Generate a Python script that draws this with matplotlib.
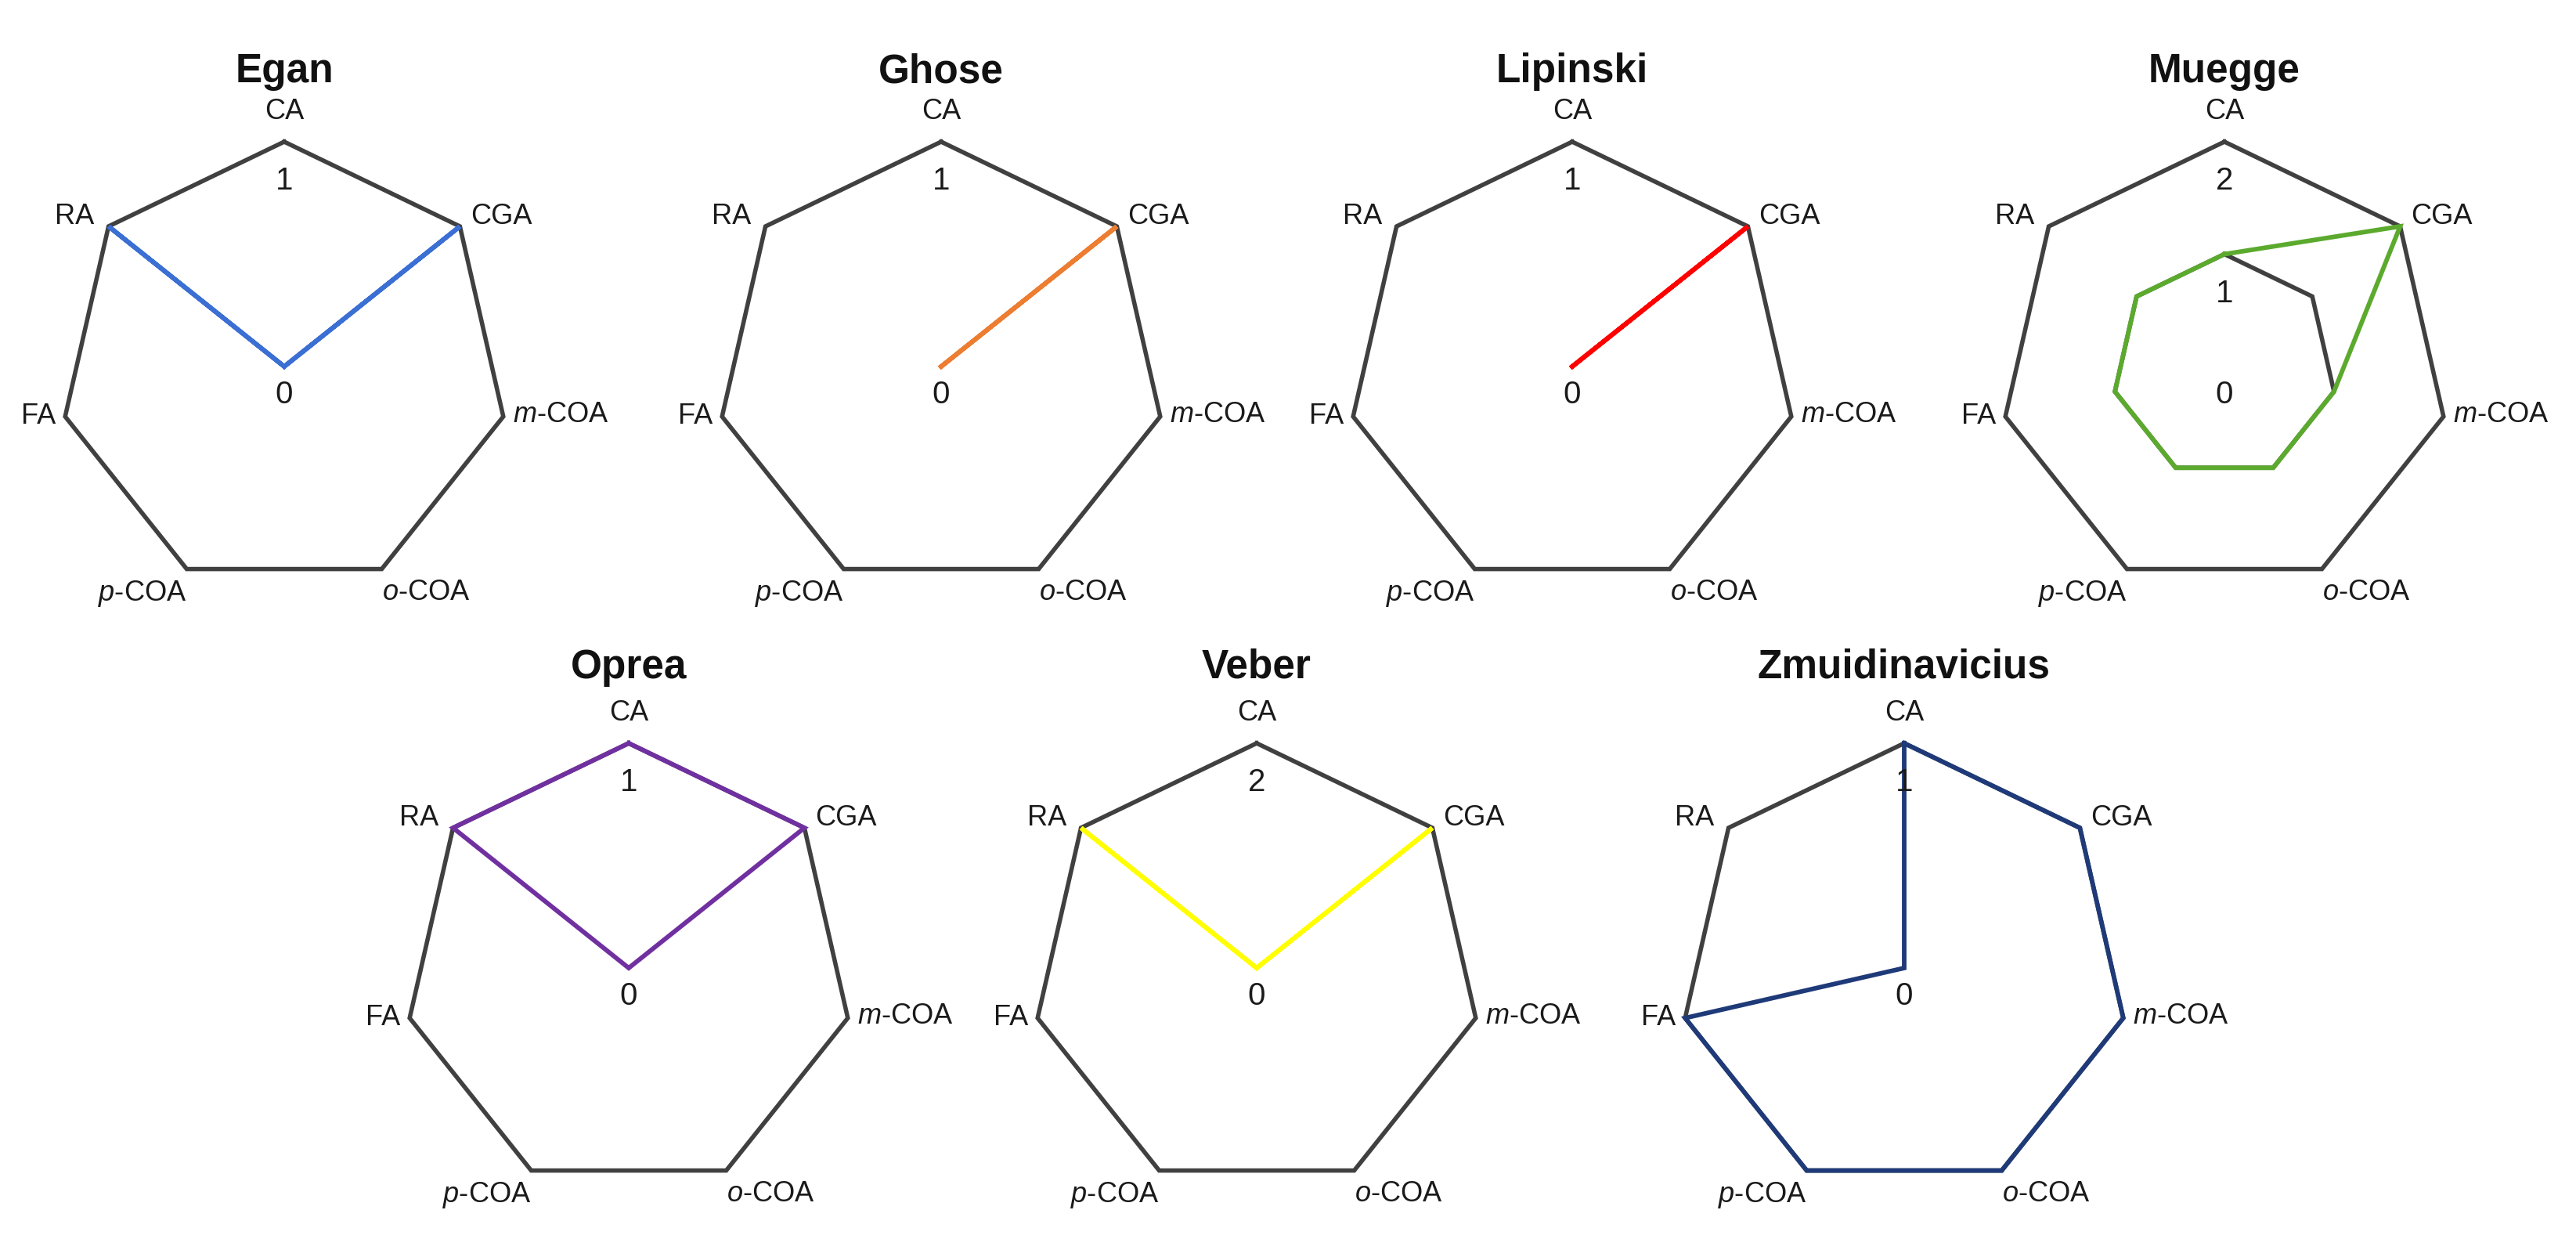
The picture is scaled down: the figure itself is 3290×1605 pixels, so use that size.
import matplotlib.pyplot as plt
import numpy as np

plt.rcParams['font.family'] = ['Liberation Sans', 'DejaVu Sans']
plt.rcParams['mathtext.fontset'] = 'custom'
plt.rcParams['mathtext.rm'] = 'Liberation Sans'
plt.rcParams['mathtext.it'] = 'Liberation Sans:italic'

# compounds, clockwise from top
compounds = ['CA', 'CGA', r'$\mathit{m}$-COA', r'$\mathit{o}$-COA',
             r'$\mathit{p}$-COA', 'FA', 'RA']

# number of rule violations per compound
rules = ['Egan', 'Ghose', 'Lipinski', 'Muegge', 'Oprea', 'Veber', 'Zmuidinavicius']
egan = [0, 1, 0, 0, 0, 0, 1]
ghose = [0, 1, 0, 0, 0, 0, 0]
lipinski = [0, 1, 0, 0, 0, 0, 0]
muegge = [1, 2, 1, 1, 1, 1, 1]
oprea = [1, 1, 0, 0, 0, 0, 1]
veber = [0, 2, 0, 0, 0, 0, 2]
zmuid = [1, 1, 1, 1, 1, 1, 0]
values = [egan, ghose, lipinski, muegge, oprea, veber, zmuid]

# radial tick labels shown on each chart
ticks = [[0, 1], [0, 1], [0, 1], [0, 1, 2], [0, 1], [0, 2], [0, 1]]
colors = ['#3B6FD4', '#ED7D31', '#FF0000', '#5BAA2E', '#7030A0', '#FFFF00', '#1F3A78']

# layout in pixels (figure is 3290 x 1605 at dpi 100)
W, H = 3290, 1605
R = 287
centers = [(363, 468), (1202, 468), (2008, 468), (2841, 468),
           (803, 1236), (1605, 1236), (2432, 1236)]
title_y = [92, 92, 92, 92, 852, 852, 852]
# label offsets (px) and alignment for each spoke
lab_style = [((0, 38), 'center', 'center'),
             ((14, 13), 'left', 'center'),
             ((12, 2), 'left', 'center'),
             ((0, -12), 'left', 'top'),
             ((0, -12), 'right', 'top'),
             ((-12, 0), 'right', 'center'),
             ((-18, 13), 'right', 'center')]
px = 0.72  # points per pixel

fig = plt.figure(figsize=(W / 100, H / 100), dpi=100)
gray = '#404040'
theta = np.linspace(0, 2 * np.pi, len(compounds), endpoint=False)
th = np.append(theta, theta[0])

for i, (name, vals, tk, col) in enumerate(zip(rules, values, ticks, colors)):
    cx, cy = centers[i]
    ax = fig.add_axes([(cx - R) / W, 1 - (cy + R) / H, 2 * R / W, 2 * R / H],
                      projection='polar')
    ax.set_theta_zero_location('N')
    ax.set_theta_direction(-1)
    rmax = max(tk)
    ax.set_ylim(0, rmax)
    ax.grid(False)
    ax.set_xticks([])
    ax.set_yticks([])
    ax.spines['polar'].set_visible(False)
    ax.patch.set_visible(False)

    for lev in tk[1:]:
        ax.plot(th, [lev] * len(th), color=gray, lw=4.0, clip_on=False,
                solid_joinstyle='miter')
    v = np.append(vals, vals[0])
    ax.plot(th, v, color=col, lw=4.2, clip_on=False, solid_joinstyle='miter')

    for t, lab, ((dx, dy), ha, va) in zip(theta, compounds, lab_style):
        ax.annotate(lab, xy=(t, rmax), xytext=(dx * px, dy * px),
                    textcoords='offset points', ha=ha, va=va, fontsize=26,
                    color='#1a1a1a', annotation_clip=False)

    for lev in tk:
        off = -36 if lev == 0 else -50
        ax.annotate(str(lev), xy=(0, lev), xytext=(0, off * px),
                    textcoords='offset points', ha='center', va='center',
                    fontsize=29, color='#1a1a1a', annotation_clip=False)

    fig.text(cx / W, 1 - title_y[i] / H, name, ha='center', va='center',
             fontsize=37, fontweight='bold', color='#111111')

plt.savefig('out.png', dpi=100)
